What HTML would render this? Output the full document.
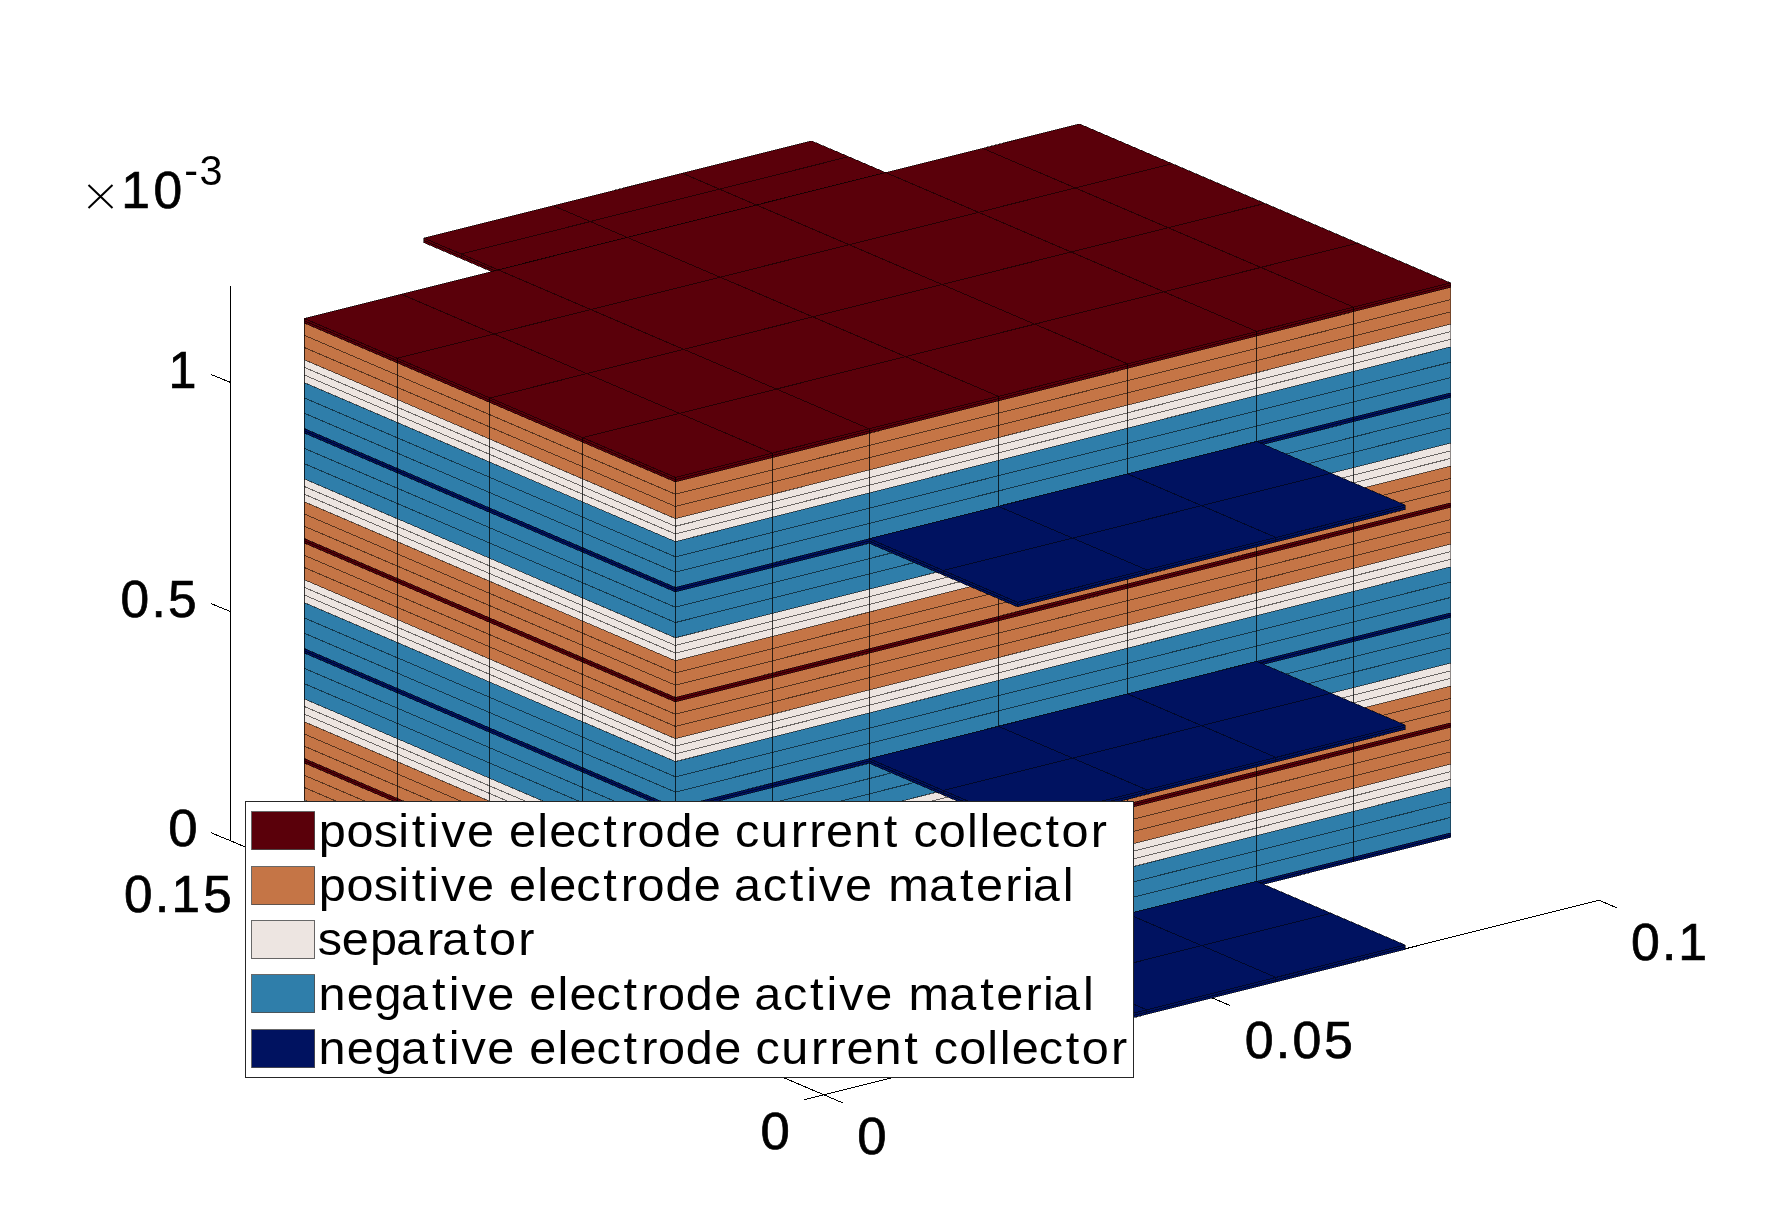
<!DOCTYPE html>
<html><head><meta charset="utf-8"><title>Battery grid</title>
<style>
html,body{margin:0;padding:0;background:#fff;}
body{width:1767px;height:1230px;overflow:hidden;font-family:"Liberation Sans",sans-serif;}
svg{display:block;}
text{font-family:"Liberation Sans",sans-serif;font-kerning:none;}
.lg,.tk{filter:grayscale(1);}
</style></head><body>
<svg width="1767" height="1230" viewBox="0 0 1767 1230">
<rect width="1767" height="1230" fill="#fff"/>
<path d="M230.20 285.70L230.20 840.60M230.20 840.60L823.80 1094.80M823.80 1094.80L1598.90 900.20M823.80 1094.80L842.50 1102.80M1211.35 997.50L1230.05 1005.50M1598.90 900.20L1617.60 908.20M823.80 1094.80L804.00 1099.80M230.20 840.60L211.10 832.80M230.20 611.45L211.10 603.65M230.20 382.30L211.10 374.50" fill="none" stroke="#000" stroke-width="1" shape-rendering="crispEdges"/>
<polygon points="423.97,238.11 811.52,140.81 885.73,172.58 498.17,269.88" fill="#5A000A" shape-rendering="crispEdges" />
<polygon points="423.97,238.11 498.17,269.88 498.17,274.46 423.97,242.69" fill="#5A000A" shape-rendering="crispEdges" />
<path d="M423.97 238.11L498.17 269.88M553.16 205.67L627.36 237.45M682.34 173.24L756.54 205.02M811.52 140.81L885.73 172.58M423.97 238.11L811.52 140.81M461.07 253.99L848.62 156.69M498.17 269.88L885.73 172.58M423.97 240.40L498.17 272.17M423.97 242.69L498.17 274.46M423.97 238.11L423.97 242.69M461.07 253.99L461.07 258.58M498.17 269.88L498.17 274.46" fill="none" stroke="#000" stroke-opacity="0.55" stroke-width="1" shape-rendering="crispEdges"/>
<polygon points="304.40,868.49 675.40,1027.37 675.40,1031.95 304.40,873.08" fill="#001260" shape-rendering="crispEdges" />
<polygon points="304.40,822.66 675.40,981.54 675.40,1027.37 304.40,868.49" fill="#2F7EAA" shape-rendering="crispEdges" />
<polygon points="304.40,799.75 675.40,958.62 675.40,981.54 304.40,822.66" fill="#EDE5E1" shape-rendering="crispEdges" />
<polygon points="304.40,763.08 675.40,921.96 675.40,958.62 304.40,799.75" fill="#C57546" shape-rendering="crispEdges" />
<polygon points="304.40,758.50 675.40,917.38 675.40,921.96 304.40,763.08" fill="#5A000A" shape-rendering="crispEdges" />
<polygon points="304.40,721.84 675.40,880.71 675.40,917.38 304.40,758.50" fill="#C57546" shape-rendering="crispEdges" />
<polygon points="304.40,698.92 675.40,857.80 675.40,880.71 304.40,721.84" fill="#EDE5E1" shape-rendering="crispEdges" />
<polygon points="304.40,653.09 675.40,811.97 675.40,857.80 304.40,698.92" fill="#2F7EAA" shape-rendering="crispEdges" />
<polygon points="304.40,648.51 675.40,807.38 675.40,811.97 304.40,653.09" fill="#001260" shape-rendering="crispEdges" />
<polygon points="304.40,602.68 675.40,761.55 675.40,807.38 304.40,648.51" fill="#2F7EAA" shape-rendering="crispEdges" />
<polygon points="304.40,579.76 675.40,738.64 675.40,761.55 304.40,602.68" fill="#EDE5E1" shape-rendering="crispEdges" />
<polygon points="304.40,543.10 675.40,701.97 675.40,738.64 304.40,579.76" fill="#C57546" shape-rendering="crispEdges" />
<polygon points="304.40,538.52 675.40,697.39 675.40,701.97 304.40,543.10" fill="#5A000A" shape-rendering="crispEdges" />
<polygon points="304.40,501.85 675.40,660.73 675.40,697.39 304.40,538.52" fill="#C57546" shape-rendering="crispEdges" />
<polygon points="304.40,478.94 675.40,637.81 675.40,660.73 304.40,501.85" fill="#EDE5E1" shape-rendering="crispEdges" />
<polygon points="304.40,433.11 675.40,591.98 675.40,637.81 304.40,478.94" fill="#2F7EAA" shape-rendering="crispEdges" />
<polygon points="304.40,428.52 675.40,587.40 675.40,591.98 304.40,433.11" fill="#001260" shape-rendering="crispEdges" />
<polygon points="304.40,382.69 675.40,541.57 675.40,587.40 304.40,428.52" fill="#2F7EAA" shape-rendering="crispEdges" />
<polygon points="304.40,359.78 675.40,518.65 675.40,541.57 304.40,382.69" fill="#EDE5E1" shape-rendering="crispEdges" />
<polygon points="304.40,323.11 675.40,481.99 675.40,518.65 304.40,359.78" fill="#C57546" shape-rendering="crispEdges" />
<polygon points="304.40,318.53 675.40,477.41 675.40,481.99 304.40,323.11" fill="#5A000A" shape-rendering="crispEdges" />
<polygon points="675.40,1027.37 1450.50,832.77 1450.50,837.35 675.40,1031.95" fill="#001260" shape-rendering="crispEdges" />
<polygon points="675.40,981.54 1450.50,786.94 1450.50,832.77 675.40,1027.37" fill="#2F7EAA" shape-rendering="crispEdges" />
<polygon points="675.40,958.62 1450.50,764.02 1450.50,786.94 675.40,981.54" fill="#EDE5E1" shape-rendering="crispEdges" />
<polygon points="675.40,921.96 1450.50,727.36 1450.50,764.02 675.40,958.62" fill="#C57546" shape-rendering="crispEdges" />
<polygon points="675.40,917.38 1450.50,722.77 1450.50,727.36 675.40,921.96" fill="#5A000A" shape-rendering="crispEdges" />
<polygon points="675.40,880.71 1450.50,686.11 1450.50,722.77 675.40,917.38" fill="#C57546" shape-rendering="crispEdges" />
<polygon points="675.40,857.80 1450.50,663.20 1450.50,686.11 675.40,880.71" fill="#EDE5E1" shape-rendering="crispEdges" />
<polygon points="675.40,811.97 1450.50,617.37 1450.50,663.20 675.40,857.80" fill="#2F7EAA" shape-rendering="crispEdges" />
<polygon points="675.40,807.38 1450.50,612.78 1450.50,617.37 675.40,811.97" fill="#001260" shape-rendering="crispEdges" />
<polygon points="675.40,761.55 1450.50,566.95 1450.50,612.78 675.40,807.38" fill="#2F7EAA" shape-rendering="crispEdges" />
<polygon points="675.40,738.64 1450.50,544.04 1450.50,566.95 675.40,761.55" fill="#EDE5E1" shape-rendering="crispEdges" />
<polygon points="675.40,701.97 1450.50,507.37 1450.50,544.04 675.40,738.64" fill="#C57546" shape-rendering="crispEdges" />
<polygon points="675.40,697.39 1450.50,502.79 1450.50,507.37 675.40,701.97" fill="#5A000A" shape-rendering="crispEdges" />
<polygon points="675.40,660.73 1450.50,466.13 1450.50,502.79 675.40,697.39" fill="#C57546" shape-rendering="crispEdges" />
<polygon points="675.40,637.81 1450.50,443.21 1450.50,466.13 675.40,660.73" fill="#EDE5E1" shape-rendering="crispEdges" />
<polygon points="675.40,591.98 1450.50,397.38 1450.50,443.21 675.40,637.81" fill="#2F7EAA" shape-rendering="crispEdges" />
<polygon points="675.40,587.40 1450.50,392.80 1450.50,397.38 675.40,591.98" fill="#001260" shape-rendering="crispEdges" />
<polygon points="675.40,541.57 1450.50,346.97 1450.50,392.80 675.40,587.40" fill="#2F7EAA" shape-rendering="crispEdges" />
<polygon points="675.40,518.65 1450.50,324.05 1450.50,346.97 675.40,541.57" fill="#EDE5E1" shape-rendering="crispEdges" />
<polygon points="675.40,481.99 1450.50,287.39 1450.50,324.05 675.40,518.65" fill="#C57546" shape-rendering="crispEdges" />
<polygon points="675.40,477.41 1450.50,282.81 1450.50,287.39 675.40,481.99" fill="#5A000A" shape-rendering="crispEdges" />
<polygon points="675.40,477.41 1450.50,282.81 1079.50,123.93 304.40,318.53" fill="#5A000A" shape-rendering="crispEdges" />
<path d="M304.40 873.08L675.40 1031.95M675.40 1031.95L1450.50 837.35M304.40 870.78L675.40 1029.66M675.40 1029.66L1450.50 835.06M304.40 868.49L675.40 1027.37M675.40 1027.37L1450.50 832.77M304.40 853.22L675.40 1012.09M675.40 1012.09L1450.50 817.49M304.40 837.94L675.40 996.81M675.40 996.81L1450.50 802.21M304.40 822.66L675.40 981.54M675.40 981.54L1450.50 786.94M304.40 815.02L675.40 973.90M675.40 973.90L1450.50 779.30M304.40 807.39L675.40 966.26M675.40 966.26L1450.50 771.66M304.40 799.75L675.40 958.62M675.40 958.62L1450.50 764.02M304.40 787.53L675.40 946.40M675.40 946.40L1450.50 751.80M304.40 775.30L675.40 934.18M675.40 934.18L1450.50 739.58M304.40 763.08L675.40 921.96M675.40 921.96L1450.50 727.36M304.40 760.79L675.40 919.67M675.40 919.67L1450.50 725.07M304.40 758.50L675.40 917.38M675.40 917.38L1450.50 722.77M304.40 746.28L675.40 905.15M675.40 905.15L1450.50 710.55M304.40 734.06L675.40 892.93M675.40 892.93L1450.50 698.33M304.40 721.84L675.40 880.71M675.40 880.71L1450.50 686.11M304.40 714.20L675.40 873.07M675.40 873.07L1450.50 678.47M304.40 706.56L675.40 865.43M675.40 865.43L1450.50 670.83M304.40 698.92L675.40 857.80M675.40 857.80L1450.50 663.20M304.40 683.64L675.40 842.52M675.40 842.52L1450.50 647.92M304.40 668.37L675.40 827.24M675.40 827.24L1450.50 632.64M304.40 653.09L675.40 811.97M675.40 811.97L1450.50 617.37M304.40 650.80L675.40 809.67M675.40 809.67L1450.50 615.07M304.40 648.51L675.40 807.38M675.40 807.38L1450.50 612.78M304.40 633.23L675.40 792.11M675.40 792.11L1450.50 597.51M304.40 617.95L675.40 776.83M675.40 776.83L1450.50 582.23M304.40 602.68L675.40 761.55M675.40 761.55L1450.50 566.95M304.40 595.04L675.40 753.91M675.40 753.91L1450.50 559.31M304.40 587.40L675.40 746.28M675.40 746.28L1450.50 551.68M304.40 579.76L675.40 738.64M675.40 738.64L1450.50 544.04M304.40 567.54L675.40 726.42M675.40 726.42L1450.50 531.82M304.40 555.32L675.40 714.20M675.40 714.20L1450.50 519.60M304.40 543.10L675.40 701.97M675.40 701.97L1450.50 507.37M304.40 540.81L675.40 699.68M675.40 699.68L1450.50 505.08M304.40 538.52L675.40 697.39M675.40 697.39L1450.50 502.79M304.40 526.29L675.40 685.17M675.40 685.17L1450.50 490.57M304.40 514.07L675.40 672.95M675.40 672.95L1450.50 478.35M304.40 501.85L675.40 660.73M675.40 660.73L1450.50 466.13M304.40 494.21L675.40 653.09M675.40 653.09L1450.50 458.49M304.40 486.58L675.40 645.45M675.40 645.45L1450.50 450.85M304.40 478.94L675.40 637.81M675.40 637.81L1450.50 443.21M304.40 463.66L675.40 622.54M675.40 622.54L1450.50 427.94M304.40 448.38L675.40 607.26M675.40 607.26L1450.50 412.66M304.40 433.11L675.40 591.98M675.40 591.98L1450.50 397.38M304.40 430.82L675.40 589.69M675.40 589.69L1450.50 395.09M304.40 428.52L675.40 587.40M675.40 587.40L1450.50 392.80M304.40 413.25L675.40 572.12M675.40 572.12L1450.50 377.52M304.40 397.97L675.40 556.85M675.40 556.85L1450.50 362.25M304.40 382.69L675.40 541.57M675.40 541.57L1450.50 346.97M304.40 375.06L675.40 533.93M675.40 533.93L1450.50 339.33M304.40 367.42L675.40 526.29M675.40 526.29L1450.50 331.69M304.40 359.78L675.40 518.65M675.40 518.65L1450.50 324.05M304.40 347.56L675.40 506.43M675.40 506.43L1450.50 311.83M304.40 335.34L675.40 494.21M675.40 494.21L1450.50 299.61M304.40 323.11L675.40 481.99M675.40 481.99L1450.50 287.39M304.40 320.82L675.40 479.70M675.40 479.70L1450.50 285.10M304.40 318.53L675.40 477.41M675.40 477.41L1450.50 282.81M675.40 477.41L1450.50 282.81M582.65 437.69L1357.75 243.09M489.90 397.97L1265.00 203.37M397.15 358.25L1172.25 163.65M304.40 318.53L1079.50 123.93M675.40 477.41L304.40 318.53M772.29 453.08L401.29 294.21M869.17 428.76L498.17 269.88M998.36 396.32L627.36 237.45M1127.54 363.89L756.54 205.02M1256.72 331.46L885.73 172.58M1353.61 307.13L982.61 148.26M1450.50 282.81L1079.50 123.93" fill="none" stroke="#000" stroke-opacity="0.55" stroke-width="1" shape-rendering="crispEdges"/>
<path d="M675.40 477.41L675.40 1031.95M582.65 437.69L582.65 992.23M489.90 397.97L489.90 952.51M397.15 358.25L397.15 912.79M304.40 318.53L304.40 873.08M675.40 477.41L675.40 1031.95M772.29 453.08L772.29 1007.62M869.17 428.76L869.17 983.30M998.36 396.32L998.36 950.87M1127.54 363.89L1127.54 918.43M1256.72 331.46L1256.72 886.00M1353.61 307.13L1353.61 861.68" fill="none" stroke="#000" stroke-opacity="0.75" stroke-width="1" shape-rendering="crispEdges"/>
<path d="M1450.50 282.81L1450.50 837.35" fill="none" stroke="#000" stroke-opacity="0.4" stroke-width="1" shape-rendering="crispEdges"/>
<polygon points="869.17,538.75 1256.72,441.45 1405.12,505.00 1017.57,602.30" fill="#001260" shape-rendering="crispEdges" />
<polygon points="869.17,538.75 1017.57,602.30 1017.57,606.88 869.17,543.33" fill="#001260" shape-rendering="crispEdges" />
<polygon points="1017.57,602.30 1405.12,505.00 1405.12,509.58 1017.57,606.88" fill="#001260" shape-rendering="crispEdges" />
<path d="M869.17 538.75L1017.57 602.30M998.36 506.32L1146.76 569.87M1127.54 473.88L1275.94 537.43M1256.72 441.45L1405.12 505.00M869.17 538.75L1256.72 441.45M943.37 570.52L1330.92 473.22M1017.57 602.30L1405.12 505.00M869.17 541.04L1017.57 604.59M869.17 543.33L1017.57 606.88M869.17 538.75L869.17 543.33M943.37 570.52L943.37 575.11M1017.57 602.30L1017.57 606.88M1017.57 604.59L1405.12 507.29M1017.57 606.88L1405.12 509.58M1017.57 602.30L1017.57 606.88M1146.76 569.87L1146.76 574.45M1275.94 537.43L1275.94 542.02M1405.12 505.00L1405.12 509.58" fill="none" stroke="#000" stroke-opacity="0.55" stroke-width="1" shape-rendering="crispEdges"/>
<polygon points="869.17,758.73 1256.72,661.43 1405.12,724.98 1017.57,822.28" fill="#001260" shape-rendering="crispEdges" />
<polygon points="869.17,758.73 1017.57,822.28 1017.57,826.87 869.17,763.32" fill="#001260" shape-rendering="crispEdges" />
<polygon points="1017.57,822.28 1405.12,724.98 1405.12,729.57 1017.57,826.87" fill="#001260" shape-rendering="crispEdges" />
<path d="M869.17 758.73L1017.57 822.28M998.36 726.30L1146.76 789.85M1127.54 693.87L1275.94 757.42M1256.72 661.43L1405.12 724.98M869.17 758.73L1256.72 661.43M943.37 790.51L1330.92 693.21M1017.57 822.28L1405.12 724.98M869.17 761.02L1017.57 824.57M869.17 763.32L1017.57 826.87M869.17 758.73L869.17 763.32M943.37 790.51L943.37 795.09M1017.57 822.28L1017.57 826.87M1017.57 824.57L1405.12 727.27M1017.57 826.87L1405.12 729.57M1017.57 822.28L1017.57 826.87M1146.76 789.85L1146.76 794.43M1275.94 757.42L1275.94 762.00M1405.12 724.98L1405.12 729.57" fill="none" stroke="#000" stroke-opacity="0.55" stroke-width="1" shape-rendering="crispEdges"/>
<polygon points="869.17,978.72 1256.72,881.42 1405.12,944.97 1017.57,1042.27" fill="#001260" shape-rendering="crispEdges" />
<polygon points="869.17,978.72 1017.57,1042.27 1017.57,1046.85 869.17,983.30" fill="#001260" shape-rendering="crispEdges" />
<polygon points="1017.57,1042.27 1405.12,944.97 1405.12,949.55 1017.57,1046.85" fill="#001260" shape-rendering="crispEdges" />
<path d="M869.17 978.72L1017.57 1042.27M998.36 946.28L1146.76 1009.83M1127.54 913.85L1275.94 977.40M1256.72 881.42L1405.12 944.97M869.17 978.72L1256.72 881.42M943.37 1010.49L1330.92 913.19M1017.57 1042.27L1405.12 944.97M869.17 981.01L1017.57 1044.56M869.17 983.30L1017.57 1046.85M869.17 978.72L869.17 983.30M943.37 1010.49L943.37 1015.07M1017.57 1042.27L1017.57 1046.85M1017.57 1044.56L1405.12 947.26M1017.57 1046.85L1405.12 949.55M1017.57 1042.27L1017.57 1046.85M1146.76 1009.83L1146.76 1014.42M1275.94 977.40L1275.94 981.98M1405.12 944.97L1405.12 949.55" fill="none" stroke="#000" stroke-opacity="0.55" stroke-width="1" shape-rendering="crispEdges"/>
<rect x="245.5" y="801.6" width="888.0" height="275.6" fill="#fff" stroke="#262626" stroke-width="1" shape-rendering="crispEdges"/>
<rect x="251.5" y="811.50" width="63" height="38" fill="#5A000A" stroke="#4d4d4d" stroke-opacity="0.85" stroke-width="1" shape-rendering="crispEdges"/>
<g class="lg">
<text transform="scale(1.0350,1)" x="308.04 334.89 361.14 384.75 397.86 413.87 426.23 451.23 477.59 491.80 518.98 530.63 556.66 582.77 599.86 616.06 642.90 670.41 696.77 710.26 735.11 763.96 781.84 798.19 825.35 853.98 869.15 882.65 907.12 934.29 946.37 958.03 984.06 1010.16 1025.58 1053.85" y="847.00" font-size="47.0" fill="#000">positive electrode current collector</text>
</g>
<rect x="251.5" y="866.50" width="63" height="38" fill="#C57546" stroke="#4d4d4d" stroke-opacity="0.85" stroke-width="1" shape-rendering="crispEdges"/>
<g class="lg">
<text transform="scale(1.0350,1)" x="308.04 334.89 361.14 384.75 397.86 413.87 426.23 451.23 477.59 491.80 518.98 530.63 556.66 582.77 599.86 616.06 642.90 670.41 696.77 709.17 736.90 763.01 779.02 791.38 816.38 842.74 858.28 897.50 927.43 943.00 971.27 988.07 997.89 1026.77" y="901.00" font-size="47.0" fill="#000">positive electrode active material</text>
</g>
<rect x="251.5" y="920.50" width="63" height="38" fill="#EDE5E1" stroke="#4d4d4d" stroke-opacity="0.85" stroke-width="1" shape-rendering="crispEdges"/>
<g class="lg">
<text transform="scale(1.0350,1)" x="306.94 330.10 357.44 382.64 412.61 427.16 457.09 472.50 500.78" y="955.00" font-size="47.0" fill="#000">separator</text>
</g>
<rect x="251.5" y="974.50" width="63" height="38" fill="#2F7EAA" stroke="#4d4d4d" stroke-opacity="0.85" stroke-width="1" shape-rendering="crispEdges"/>
<g class="lg">
<text transform="scale(1.0350,1)" x="307.85 335.00 361.84 387.54 417.47 433.49 445.84 470.85 497.21 511.42 538.59 550.25 576.28 602.38 619.47 635.67 662.52 690.03 716.38 728.79 756.52 782.62 798.64 810.99 836.00 862.36 877.89 917.11 947.05 962.61 990.89 1007.69 1017.51 1046.39" y="1010.00" font-size="47.0" fill="#000">negative electrode active material</text>
</g>
<rect x="251.5" y="1029.50" width="63" height="38" fill="#001260" stroke="#4d4d4d" stroke-opacity="0.85" stroke-width="1" shape-rendering="crispEdges"/>
<g class="lg">
<text transform="scale(1.0350,1)" x="307.85 335.00 361.84 387.54 417.47 433.49 445.84 470.85 497.21 511.42 538.59 550.25 576.28 602.38 619.47 635.67 662.52 690.03 716.38 729.88 754.72 783.58 801.45 817.81 844.96 873.59 888.77 902.26 926.73 953.91 965.99 977.64 1003.68 1029.78 1045.19 1073.47" y="1064.00" font-size="47.0" fill="#000">negative electrode current collector</text>
</g>
<g class="tk">
<text transform="scale(0.9644,1)" x="174.74" y="387.85" font-size="52.2" fill="#000" stroke="#000" stroke-width="0.7">1</text>
<text transform="scale(0.9864,1)" x="122.06 153.49 170.22" y="616.85" font-size="52.2" fill="#000" stroke="#000" stroke-width="0.7">0.5</text>
<text transform="scale(1.0097,1)" x="166.68" y="845.65" font-size="52.2" fill="#000" stroke="#000" stroke-width="0.7">0</text>
<text transform="scale(0.9800,1)" x="126.47 158.06 174.90 207.41" y="911.65" font-size="52.2" fill="#000" stroke="#000" stroke-width="0.7">0.15</text>
<text transform="scale(1.0097,1)" x="753.18" y="1149.35" font-size="52.2" fill="#000" stroke="#000" stroke-width="0.7">0</text>
<text transform="scale(1.0097,1)" x="848.95" y="1154.35" font-size="52.2" fill="#000" stroke="#000" stroke-width="0.7">0</text>
<text transform="scale(0.9937,1)" x="1252.60 1283.85 1300.60 1332.42" y="1058.15" font-size="52.2" fill="#000" stroke="#000" stroke-width="0.7">0.05</text>
<text transform="scale(0.9928,1)" x="1642.75 1674.02 1690.54" y="960.35" font-size="52.2" fill="#000" stroke="#000" stroke-width="0.7">0.1</text>
<path d="M88.5 185L112.5 208M112.5 185L88.5 208" stroke="#000" stroke-width="2.0" fill="none"/>
<text transform="scale(0.9882,1)" x="122.80 155.24" y="208.45" font-size="52.2" fill="#000" stroke="#000" stroke-width="0.7">10</text>
<text transform="scale(0.9738,1)" x="189.16 204.94" y="185.00" font-size="42.5" fill="#000">-3</text>
</g>
</svg>
</body></html>
